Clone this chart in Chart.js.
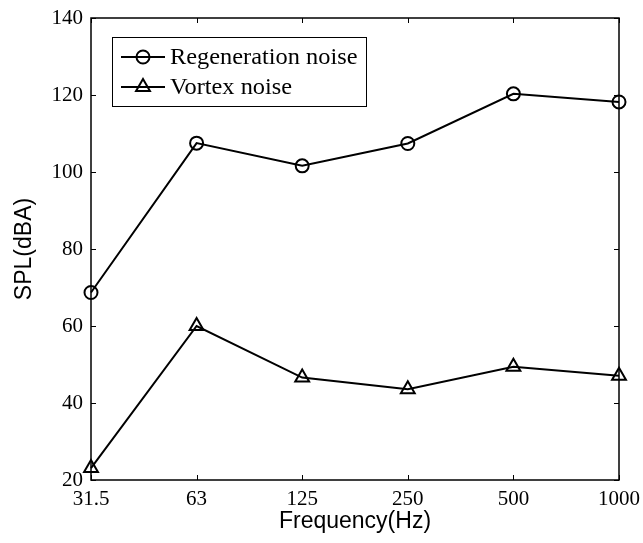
<!DOCTYPE html>
<html lang="en">
<head>
    <meta charset="UTF-8">
    <title>SPL vs Frequency</title>
    <script src="https://cdn.jsdelivr.net/npm/chart.js"></script>
    <style>
        * { margin: 0; padding: 0; box-sizing: border-box; }
        body { background: #fff; width: 643px; height: 543px; overflow: hidden; }
        #wrap { position: relative; width: 643px; height: 543px; }
    </style>
</head>
<body>
    <div id="wrap"><canvas id="splChart"></canvas></div>

    <script>
        // data
        const frequencies = ['31.5', '63', '125', '250', '500', '1000'];
        const regenerationNoise = [68.7, 107.5, 101.6, 107.4, 120.3, 118.2];
        const vortexNoise = [23.1, 60.0, 46.6, 43.6, 49.4, 47.1];
        const yTicks = [20, 40, 60, 80, 100, 120, 140];

        const serif = '"Liberation Serif", "Times New Roman", serif';
        const sans = '"Liberation Sans", Arial, sans-serif';

        // box around the plot plus inward tick marks on all four sides
        const boxTicks = {
            id: 'boxTicks',
            afterDatasetsDraw(chart) {
                const { ctx, chartArea: a, scales } = chart;
                const len = 5;
                ctx.save();
                ctx.strokeStyle = '#000';
                ctx.lineWidth = 1;
                ctx.beginPath();
                scales.x.ticks.forEach((t, i) => {
                    const x = Math.round(scales.x.getPixelForTick(i)) + 0.5;
                    ctx.moveTo(x, a.bottom); ctx.lineTo(x, a.bottom - len);
                    ctx.moveTo(x, a.top); ctx.lineTo(x, a.top + len);
                });
                scales.y.ticks.forEach((t, i) => {
                    const y = Math.round(scales.y.getPixelForTick(i)) + 0.5;
                    ctx.moveTo(a.left, y); ctx.lineTo(a.left + len, y);
                    ctx.moveTo(a.right, y); ctx.lineTo(a.right - len, y);
                });
                ctx.stroke();
                ctx.lineWidth = 1.5;
                ctx.strokeRect(a.left, a.top, a.right - a.left, a.bottom - a.top);
                ctx.restore();
            }
        };

        // matlab-style legend inside the upper left corner
        const boxLegend = {
            id: 'boxLegend',
            afterDraw(chart) {
                const { ctx, chartArea: a } = chart;
                const left = a.left + 21, top = a.top + 19;
                const rowH = 30, lineLen = 44;
                ctx.save();
                ctx.font = '23px ' + serif;
                let textW = 0;
                chart.data.datasets.forEach(ds => { textW = Math.max(textW, ctx.measureText(ds.label).width); });
                const w = Math.max(254, 9 + lineLen + 5 + textW + 6);
                const h = 69;
                ctx.fillStyle = '#fff';
                ctx.fillRect(left, top, w, h);
                ctx.strokeStyle = '#000';
                ctx.lineWidth = 1;
                ctx.strokeRect(left + 0.5, top + 0.5, w, h);
                chart.data.datasets.forEach((ds, i) => {
                    const y = top + 20 + i * rowH;
                    const x0 = left + 9;
                    ctx.lineWidth = 2;
                    ctx.beginPath();
                    ctx.moveTo(x0, y); ctx.lineTo(x0 + lineLen, y);
                    ctx.stroke();
                    ctx.fillStyle = 'rgba(0,0,0,0)';
                    Chart.helpers.drawPoint(ctx, { pointStyle: ds.pointStyle, radius: ds.pointRadius, rotation: 0, borderWidth: 2 }, x0 + lineLen / 2, y);
                    ctx.fillStyle = '#000';
                    ctx.textBaseline = 'middle';
                    ctx.save();
                    ctx.translate(x0 + lineLen + 5, y + 1);
                    ctx.scale(1.06, 1);
                    ctx.fillText(ds.label, 0, 0);
                    ctx.restore();
                });
                ctx.restore();
            }
        };

        new Chart(document.getElementById('splChart'), {
            type: 'line',
            data: {
                labels: frequencies,
                datasets: [{
                    label: 'Regeneration noise',
                    data: regenerationNoise,
                    borderColor: '#000',
                    backgroundColor: 'rgba(0,0,0,0)',
                    borderWidth: 2,
                    tension: 0,
                    pointStyle: 'circle',
                    pointRadius: 6.5,
                    pointBorderWidth: 2,
                    pointBackgroundColor: 'rgba(0,0,0,0)',
                    pointBorderColor: '#000'
                }, {
                    label: 'Vortex noise',
                    data: vortexNoise,
                    borderColor: '#000',
                    backgroundColor: 'rgba(0,0,0,0)',
                    borderWidth: 2,
                    tension: 0,
                    pointStyle: 'triangle',
                    pointRadius: 8,
                    pointBorderWidth: 2,
                    pointBackgroundColor: 'rgba(0,0,0,0)',
                    pointBorderColor: '#000'
                }]
            },
            options: {
                responsive: true,
                maintainAspectRatio: false,
                animation: false,
                layout: { padding: { top: 18, right: 24, left: 0, bottom: 0 } },
                plugins: {
                    legend: { display: false },
                    tooltip: { enabled: false }
                },
                scales: {
                    x: {
                        type: 'category',
                        offset: false,
                        grid: { display: false, drawTicks: false },
                        border: { display: false },
                        ticks: { color: '#000', font: { family: serif, size: 21 }, padding: 7, maxRotation: 0, autoSkip: false },
                        title: { display: true, text: 'Frequency(Hz)', color: '#000', font: { family: sans, size: 23 }, padding: { top: 0, bottom: 8 } },
                        afterFit(scale) {
                            scale.height = 63;
                            scale.paddingLeft = 0;
                            scale.paddingRight = 0;
                        }
                    },
                    y: {
                        min: yTicks[0],
                        max: yTicks[yTicks.length - 1],
                        grid: { display: false, drawTicks: false },
                        border: { display: false },
                        afterBuildTicks(scale) { scale.ticks = yTicks.map(v => ({ value: v })); },
                        ticks: { color: '#000', font: { family: serif, size: 21 }, padding: 8 },
                        title: { display: true, text: 'SPL(dBA)', color: '#000', font: { family: sans, size: 23 }, padding: { top: 11, bottom: 0 } },
                        afterFit(scale) {
                            scale.width = 91;
                            scale.paddingTop = 0;
                            scale.paddingBottom = 0;
                        }
                    }
                }
            },
            plugins: [boxTicks, boxLegend]
        });
    </script>
</body>
</html>
